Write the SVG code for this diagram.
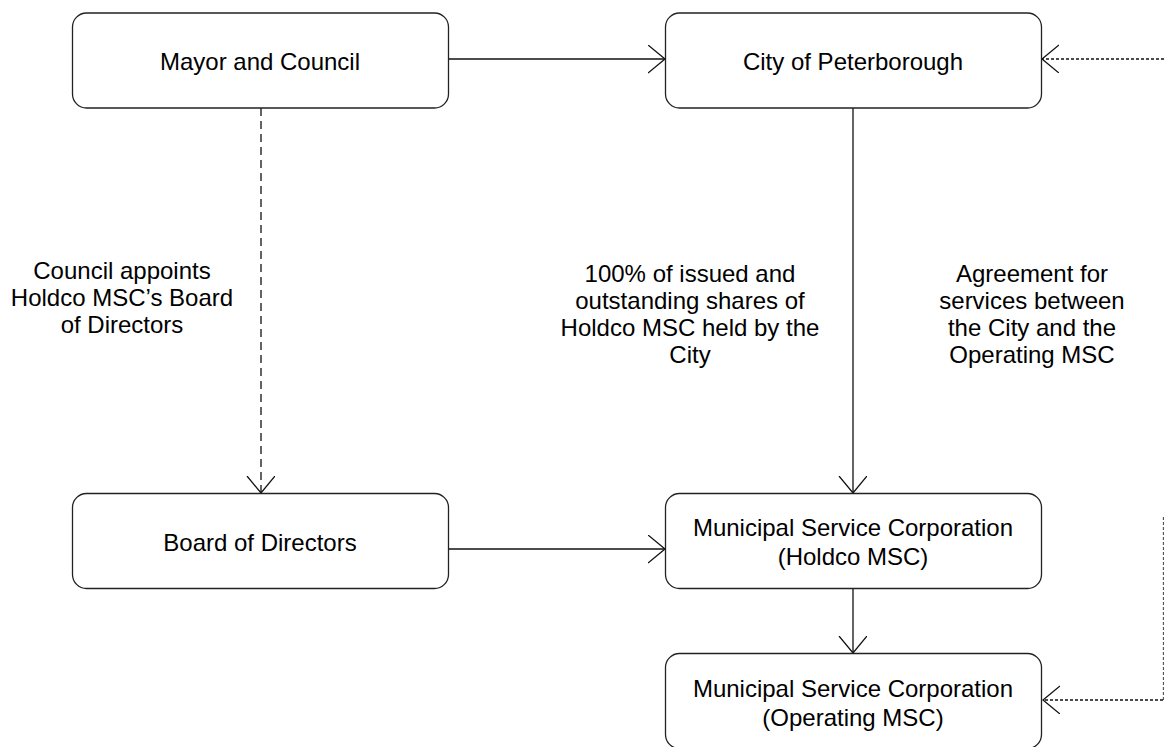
<svg xmlns="http://www.w3.org/2000/svg" width="1164" height="747" viewBox="0 0 1164 747">
<style>
.box{fill:#fff;stroke:#222;stroke-width:1.3}
.t{font-family:"Liberation Sans",Arial,sans-serif;font-size:24px;fill:#000;text-anchor:middle}
.ln{fill:none;stroke:#111;stroke-width:1.3}
.dash{stroke-dasharray:8,5}
.dot{stroke-dasharray:3,2}
.ah{fill:none;stroke:#111;stroke-width:1.3}
</style>
<defs>
<marker id="arr" markerWidth="20" markerHeight="30" refX="17" refY="14" orient="auto" markerUnits="userSpaceOnUse" viewBox="0 0 20 30">
<path class="ah" d="M0,0 L17,14 L0,28"/>
</marker>
</defs>
<rect width="1164" height="747" fill="#fff"/>
<g id="connectors">
<line class="ln" x1="448" y1="59" x2="665" y2="59" marker-end="url(#arr)"/>
<line class="ln dash" x1="261" y1="108" x2="261" y2="493" marker-end="url(#arr)"/>
<line class="ln" x1="853" y1="108" x2="853" y2="493" marker-end="url(#arr)"/>
<line class="ln" x1="449" y1="549" x2="665" y2="549" marker-end="url(#arr)"/>
<line class="ln" x1="853" y1="589" x2="853" y2="653" marker-end="url(#arr)"/>
<line class="ln dot" x1="1164" y1="59" x2="1042" y2="59" marker-end="url(#arr)"/>
<line class="ln dot" x1="1163.5" y1="517" x2="1163.5" y2="700" style="stroke:#555"/>
<line class="ln dot" x1="1163" y1="700" x2="1043" y2="700" marker-end="url(#arr)"/>
</g>
<g id="mayor">
<rect class="box" x="72.5" y="13" width="376" height="95" rx="14"/>
<text class="t" x="260" y="70">Mayor and Council</text>
</g>
<g id="city">
<rect class="box" x="665.5" y="13" width="376" height="95" rx="14"/>
<text class="t" x="853" y="70">City of Peterborough</text>
</g>
<g id="board">
<rect class="box" x="72.5" y="493.5" width="376" height="95" rx="14"/>
<text class="t" x="260" y="551">Board of Directors</text>
</g>
<g id="holdco">
<rect class="box" x="665.5" y="493.5" width="376" height="95" rx="14"/>
<text class="t" x="853" y="536">Municipal Service Corporation</text>
<text class="t" x="853" y="565">(Holdco MSC)</text>
</g>
<g id="operating">
<rect class="box" x="665.5" y="653.5" width="376" height="95" rx="14"/>
<text class="t" x="853" y="697">Municipal Service Corporation</text>
<text class="t" x="853" y="726">(Operating MSC)</text>
</g>
<g id="label-council">
<text class="t" x="122" y="279">Council appoints</text>
<text class="t" x="122" y="306">Holdco MSC’s Board</text>
<text class="t" x="122" y="333">of Directors</text>
</g>
<g id="label-shares">
<text class="t" x="690" y="282">100% of issued and</text>
<text class="t" x="690" y="309">outstanding shares of</text>
<text class="t" x="690" y="336">Holdco MSC held by the</text>
<text class="t" x="690" y="363">City</text>
</g>
<g id="label-agreement">
<text class="t" x="1032" y="282">Agreement for</text>
<text class="t" x="1032" y="309">services between</text>
<text class="t" x="1032" y="336">the City and the</text>
<text class="t" x="1032" y="363">Operating MSC</text>
</g>
</svg>
